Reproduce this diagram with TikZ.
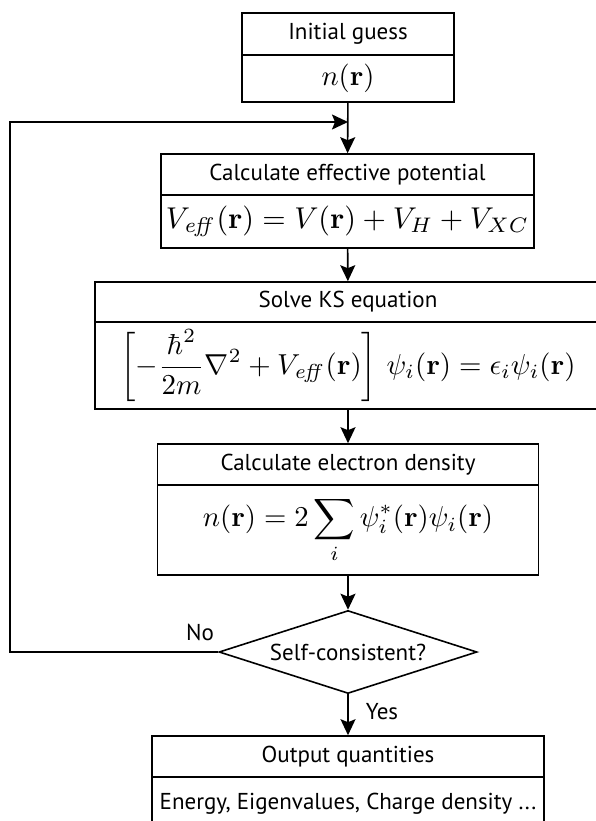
\documentclass[tikz,border=0pt]{standalone}
\usepackage{amsmath,graphicx}
\usepackage[no-math]{fontspec}
\setmainfont{PT Sans}
\usetikzlibrary{arrows.meta,positioning,shapes.geometric}

\begin{document}
\begin{tikzpicture}[x=1pt,y=-1pt,
  head/.style={draw,line width=1.6pt,inner sep=0pt,minimum height=41pt,font=\fontsize{23}{27}\selectfont},
  eqbox/.style={draw,line width=1.6pt,inner sep=0pt},
  arr/.style={-{Stealth[length=16pt,width=15pt,inset=3pt]},line width=1.6pt}]
  \useasboundingbox (0,0) rectangle (595,821);
  % Initial guess
  \node[head,minimum width=212pt,minimum height=42pt] (guess) at (348,34) {Initial guess};
  \node[eqbox,minimum width=212pt,minimum height=47pt] (guessEq) at (348,78.5) {\resizebox{53pt}{!}{$n(\mathbf{r})$}};
  % Effective potential
  \node[head,minimum width=373pt] (pot) at (347.5,174.5) {Calculate effective potential};
  \node[eqbox,minimum width=373pt,minimum height=53pt] (potEq) at (347.5,221.5)
    {\resizebox{363pt}{!}{$V_{\mathit{eff}}(\mathbf{r}) = V(\mathbf{r}) + V_H + V_{XC}$}};
  \coordinate (merge) at (348,122);
  \draw[arr] (guessEq) -- (pot);
  % KS equation
  \node[head,minimum width=506pt,minimum height=40pt] (ks) at (348,302) {Solve KS equation};
  \node[eqbox,minimum width=506pt,minimum height=87pt] (ksEq) at (348,365.5)
    {\resizebox{455pt}{!}{$\displaystyle\left[-\frac{\hbar^2}{2m}\nabla^2 + V_{\mathit{eff}}(\mathbf{r})\right]\,\psi_i(\mathbf{r}) = \epsilon_i\psi_i(\mathbf{r})$}};
  \draw[arr] (potEq) -- (ks);
  % Electron density
  \node[head,minimum width=381pt] (dens) at (348,464.5) {Calculate electron density};
  \node[eqbox,minimum width=381pt,minimum height=90pt] (densEq) at (348,530)
    {\resizebox{290pt}{!}{$\displaystyle n(\mathbf{r}) = 2\sum_i \psi_i^*(\mathbf{r})\psi_i(\mathbf{r})$}};
  \draw[arr] (ksEq) -- (dens);
  % Convergence check
  \node[draw,diamond,line width=1.6pt,inner sep=0pt,shape aspect=3.1,minimum width=258pt,minimum height=83pt,
    font=\fontsize{23}{27}\selectfont] (check) at (348,652) {Self-consistent?};
  \draw[arr] (densEq) -- (check);
  % Loop back
  \coordinate (loopLeft) at (10,652);
  \draw[arr] (check.west) -- (loopLeft) |- (merge);
  \node[font=\fontsize{23}{27}\selectfont] (no) at (200,632) {No};
  % Output
  \node[head,minimum width=392pt] (out) at (348,756.5) {Output quantities};
  \node[head,minimum width=392pt,minimum height=53pt] (outEq) at (348,803.5) {Energy, Eigenvalues, Charge density ...};
  \draw[arr] (check) -- (out);
  \node[font=\fontsize{23}{27}\selectfont] (yes) at (382,712) {Yes};
\end{tikzpicture}
\end{document}
